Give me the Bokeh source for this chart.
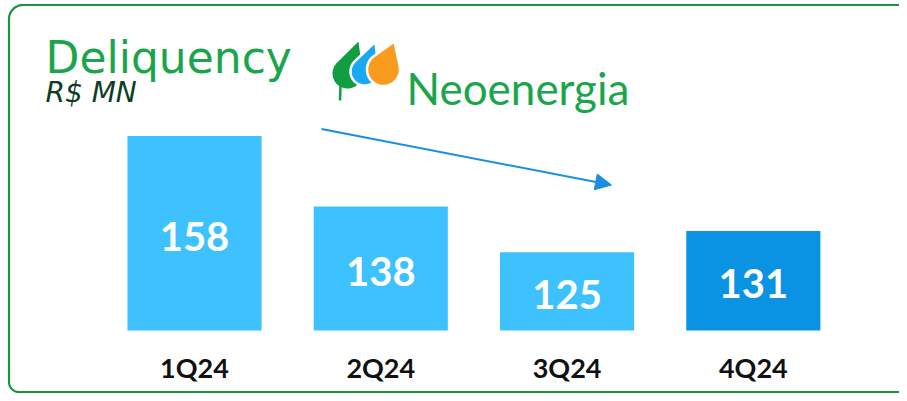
import numpy as np
from bokeh.plotting import figure
from bokeh.models import ColumnDataSource, Range1d, Arrow, NormalHead
from bokeh.core.properties import value
from bokeh.embed import file_html
from bokeh.resources import INLINE

# ---- data ----
quarters = ["1Q24", "2Q24", "3Q24", "4Q24"]
delinquency = [158, 138, 125, 131]
bar_colors = ["#3EC1FF", "#3EC1FF", "#3EC1FF", "#0A93E3"]
value_labels = [str(v) for v in delinquency]
title_text = "Deliquency"
unit_text = "R$ MN"
brand_text = "Neoenergia"

# ---- layout constants ----
BASE = 102.8          # value at the bars' baseline (truncated axis)
W, H = 899, 393
GREEN = "#1BA54A"
BORDER_GREEN = "#16973F"

src = ColumnDataSource(dict(
    slot=list(range(len(quarters))),
    quarter=quarters,
    value=delinquency,
    color=bar_colors,
    label=value_labels,
    mid=[(v + BASE) / 2 for v in delinquency],
))

p = figure(width=W, height=H,
           x_range=Range1d(-1.0415, 3.7847),
           y_range=Range1d(84.92, 196.44),
           x_axis_location=None, y_axis_location=None,
           toolbar_location=None, output_backend="svg",
           min_border=0, outline_line_color=None,
           background_fill_color="white", border_fill_color="white")
p.xgrid.grid_line_color = None
p.ygrid.grid_line_color = None
# pixel-like helper ranges (canvas coordinates, y downward) for decorations
p.extra_x_ranges = {"px": Range1d(0, W)}
p.extra_y_ranges = {"px": Range1d(H, 0)}

# bars
p.vbar(x="slot", top="value", bottom=BASE, width=0.72, source=src,
       fill_color="color", line_color=None)

# value labels
p.text(x="slot", y="mid", text="label", source=src, y_offset=3,
       text_font=value("Lato"), text_font_style="bold", text_font_size="40px",
       text_color="white", text_align="center", text_baseline="middle")

# category labels
p.text(x="slot", y=367, text="quarter", source=src, y_range_name="px",
       text_font=value("Lato"), text_font_style="bold", text_font_size="27px",
       text_color="#111111", text_align="center", text_baseline="middle")

# ---- frame / border ----
r1 = 14
r2 = 10
t1 = np.linspace(-np.pi / 2, -np.pi, 20)
t2 = np.linspace(np.pi, np.pi / 2, 20)
x0, y0, y1 = 8.5, 4.5, 391.5
bx = np.r_[W, x0 + r1 + r1 * np.cos(t1), x0 + r2 + r2 * np.cos(t2), W]
by = np.r_[y0, y0 + r1 + r1 * np.sin(t1), y1 - r2 + r2 * np.sin(t2), y1]
p.line(bx, by, x_range_name="px", y_range_name="px",
       line_color=BORDER_GREEN, line_width=2.2)

# ---- titles ----
p.text(x=[45], y=[57], text=[title_text], x_range_name="px", y_range_name="px",
       text_font=value("DejaVu Sans"), text_font_size="44px", text_color=GREEN,
       text_baseline="alphabetic")
p.text(x=[45], y=[92], text=[unit_text], x_range_name="px", y_range_name="px",
       text_font=value("DejaVu Sans"), text_font_style="italic", text_font_size="28px",
       text_color="#0E3D26", text_baseline="alphabetic")

# ---- logo ----
def teardrop(cx, cy, r, tx, ty):
    d = np.hypot(tx - cx, ty - cy)
    phi = np.arctan2(ty - cy, tx - cx)
    a = np.arccos(r / d)
    t = np.linspace(phi + a, phi - a + 2 * np.pi, 60)
    xs = cx + r * np.cos(t)
    ys = cy + r * np.sin(t)
    return list(np.r_[tx, xs, tx]), list(np.r_[ty, ys, ty])

p.line([340, 339.5], [85, 100], x_range_name="px", y_range_name="px",
       line_color="#119E42", line_width=2.5)
gx, gy = teardrop(347, 73, 15, 358, 41)
p.patch(gx, gy, x_range_name="px", y_range_name="px", fill_color="#119E42", line_color=None)
bxs, bys = teardrop(364, 71, 14, 375, 41)
p.patch(bxs, bys, x_range_name="px", y_range_name="px", fill_color="#19A8F2",
        line_color="white", line_width=2.5)
oxs, oys = teardrop(383, 69, 16.5, 394, 41)
p.patch(oxs, oys, x_range_name="px", y_range_name="px", fill_color="#F89B1F",
        line_color="white", line_width=2.5)

p.text(x=[406], y=[87], text=[brand_text], x_range_name="px", y_range_name="px",
       text_font=value("Lato"), text_font_size="44px", text_color=GREEN,
       text_baseline="alphabetic")

# ---- trend arrow ----
p.add_layout(Arrow(x_start=321, y_start=128.5, x_end=611, y_end=184.5,
                   line_color="#1A8FE0", line_width=2,
                   end=NormalHead(size=16, fill_color="#1A8FE0", line_color="#1A8FE0"),
                   x_range_name="px", y_range_name="px"))

open("out.html", "w").write(file_html(p, INLINE))
